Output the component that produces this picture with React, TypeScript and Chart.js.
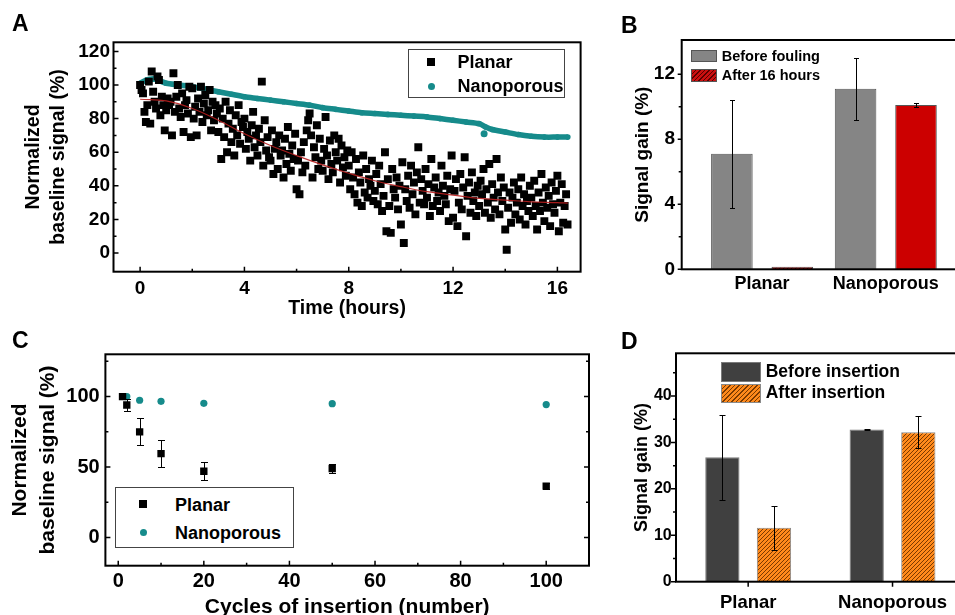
import React, { useEffect, useRef } from "react";
import { Chart, registerables } from "chart.js";

Chart.register(...registerables);

const FONT = "'Liberation Sans', Arial, Helvetica, sans-serif";
const TEAL = "#168b8b";

Chart.defaults.font.family = FONT;
Chart.defaults.color = "#000";

// ---------- A: baseline signal over 16 hours ----------
const A_STEP_HOURS = 1 / 18; // planar sensor sampled every ~3.3 min
const A_PLANAR = [
  100, 97, 95, 84, 78, 88, 102, 77, 108, 96, 90, 86, 105, 103, 82, 93, 88, 73,
  85, 92, 88, 90, 70, 107, 84, 93, 100, 86, 81, 95, 72, 88, 91, 83, 99, 69,
  98, 80, 87, 70, 92, 84, 99, 78, 89, 94, 82, 85, 97, 73, 90, 79, 88, 83,
  72, 86, 56, 80, 69, 90, 60, 77, 85, 66, 74, 58, 82, 70, 88, 65, 78, 75,
  80, 62, 72, 68, 55, 76, 84, 63, 70, 58, 74, 66, 102, 52, 79, 61, 69, 57,
  55, 73, 47, 62, 66, 50, 70, 58, 61, 45, 68, 53, 75, 59, 49, 64, 56, 71,
  38, 55, 35, 60, 48, 66, 52, 73, 79, 83, 70, 45, 63, 57, 76, 50, 68, 55,
  49, 62, 81, 58, 44, 67, 53, 48, 70, 60, 55, 68, 42, 64, 51, 57, 46, 61,
  52, 38, 60, 45, 35, 56, 30, 48, 42, 28, 58, 36, 50, 33, 44, 40, 55, 31,
  37, 47, 29, 52, 41, 25, 34, 60, 13, 44, 28, 12, 50, 38, 33, 45, 26, 40,
  17, 54, 6, 38, 31, 46, 27, 52, 35, 42, 23, 48, 63, 30, 44, 37, 29, 50,
  33, 41, 22, 56, 28, 39, 45, 31, 36, 25, 52, 40, 34, 29, 46, 19, 38, 58,
  21, 37, 44, 16, 30, 47, 26, 39, 57, 10, 34, 42, 24, 48, 31, 36, 22, 40,
  28, 43, 35, 50, 24, 38, 30, 53, 21, 41, 33, 26, 56, 36, 23, 45, 31, 39,
  14, 2, 27, 36, 18, 33, 42, 23, 30, 38, 20, 45, 28, 35, 17, 31, 25, 40,
  33, 22, 43, 28, 14, 36, 25, 47, 30, 19, 39, 27, 34, 16, 42, 29, 24, 37,
  46, 13, 30, 41, 18, 28, 35, 17,
];
const A_NANO_T = [
  0, 0.25, 0.5, 0.75, 1, 1.5, 2, 2.5, 3, 3.5, 4, 4.5, 5, 5.5, 6, 6.5, 7, 7.5, 8,
  8.5, 9, 9.5, 10, 10.5, 11, 11.5, 12, 12.5, 13, 13.25, 13.5, 14, 14.5, 15, 15.5,
  16, 16.4,
];
const A_NANO = [
  101, 103, 103.5, 102.5, 101, 100, 99, 97.5, 96, 94.5, 93, 92, 91, 90, 89, 88,
  86.5, 85.5, 84.5, 83.5, 83, 82.5, 82, 81.5, 81, 80, 79, 78, 77, 75, 73.5, 72,
  70.5, 69.5, 69, 69, 69,
];
const A_NANO_OUTLIER_T = [13.19];
const A_NANO_OUTLIER = [71];
const A_FIT_T = [0, 1, 2, 3, 4, 5, 6, 7, 8, 9, 10, 11, 12, 13, 14, 15, 16, 16.4];
const A_FIT = [
  91.5, 90.5, 86, 79, 71, 64, 58, 52.5, 47.5, 43, 39.5, 36.5, 34.5, 32.5, 31.5,
  30.5, 30, 29.7,
];
const A_XTICKS = [0, 4, 8, 12, 16];
const A_YTICKS = [0, 20, 40, 60, 80, 100, 120];

// ---------- B: signal gain before / after fouling ----------
const B_GROUPS = ["Planar", "Nanoporous"];
const B_BEFORE = [7.1, 11.1];
const B_BEFORE_ERR = [3.3, 1.9];
const B_AFTER = [0.15, 10.1];
const B_AFTER_ERR = [0, 0.15];
const B_YTICKS = [0, 4, 8, 12];

// ---------- C: baseline vs insertion cycles ----------
const C_PLANAR_CYCLES = [1, 2, 5, 10, 20, 50, 100];
const C_PLANAR = [100, 94, 75, 59.5, 47, 49, 36.5];
const C_PLANAR_ERR = [0, 4, 9.5, 9.5, 6.5, 3.3, 2];
const C_NANO_CYCLES = [2, 5, 10, 20, 50, 100];
const C_NANO = [100, 97.4, 96.6, 95.2, 95, 94.3];
const C_XTICKS = [0, 20, 40, 60, 80, 100];
const C_YTICKS = [0, 50, 100];

// ---------- D: signal gain before / after insertion ----------
const D_GROUPS = ["Planar", "Nanoporous"];
const D_BEFORE = [26.8, 32.8];
const D_BEFORE_ERR = [9.2, 0.2];
const D_AFTER = [11.6, 32.2];
const D_AFTER_ERR = [4.8, 3.5];
const D_YTICKS = [0, 10, 20, 30, 40];

const bold = (size: number, lineHeight = 1.2) => ({
  family: FONT,
  size,
  weight: "bold" as const,
  lineHeight,
});

const fixedTicks = (values: number[]) => (scale: any) => {
  scale.ticks = values.map((value) => ({ value }));
};

const noGrid = {
  grid: { display: false, drawTicks: false },
  border: { display: false },
};

// box around the plot + inward/outward tick marks (Origin style)
const framePlugin = {
  id: "frame",
  afterDraw(chart: any, _args: unknown, opts: any) {
    const { ctx } = chart;
    const { left, right, top, bottom } = chart.chartArea;
    const major = (s: any): number[] =>
      s.ticks.map((_: unknown, i: number) => s.getPixelForTick(i));
    const minor = (px: number[], lo: number, hi: number) => {
      if (px.length < 2) return [];
      const out: number[] = [];
      for (let i = 0; i < px.length - 1; i++) out.push((px[i] + px[i + 1]) / 2);
      const step = px[1] - px[0];
      const a = px[0] - step / 2;
      const b = px[px.length - 1] + step / 2;
      const mn = Math.min(lo, hi) + 2;
      const mx = Math.max(lo, hi) - 2;
      if (a > mn && a < mx) out.push(a);
      if (b > mn && b < mx) out.push(b);
      return out;
    };
    ctx.save();
    ctx.strokeStyle = "#000";
    ctx.lineWidth = 1.5;
    ctx.beginPath();
    if (opts.x !== "none") {
      const d = opts.x === "in" ? -1 : 1;
      const xs = major(chart.scales.x);
      xs.forEach((p) => {
        ctx.moveTo(p, bottom);
        ctx.lineTo(p, bottom + d * opts.major);
      });
      if (opts.minorX)
        minor(xs, left, right).forEach((p) => {
          ctx.moveTo(p, bottom);
          ctx.lineTo(p, bottom + d * opts.minor);
        });
    }
    const dy = opts.y === "in" ? 1 : -1;
    const ys = major(chart.scales.y);
    const yMinor = opts.minorY ? minor(ys, top, bottom) : [];
    ys.forEach((p) => {
      ctx.moveTo(left, p);
      ctx.lineTo(left + dy * opts.major, p);
      if (opts.mirror) {
        ctx.moveTo(right, p);
        ctx.lineTo(right - opts.major, p);
      }
    });
    yMinor.forEach((p) => {
      ctx.moveTo(left, p);
      ctx.lineTo(left + dy * opts.minor, p);
      if (opts.mirror) {
        ctx.moveTo(right, p);
        ctx.lineTo(right - opts.minor, p);
      }
    });
    ctx.stroke();
    ctx.lineWidth = 2;
    ctx.strokeRect(left, top, right - left, bottom - top);
    ctx.restore();
  },
};

const errorBarsPlugin = {
  id: "errorBars",
  afterDatasetsDraw(chart: any, _args: unknown, opts: any) {
    const sets = opts?.sets as
      | { dataset: number; errors: number[]; cap: number }[]
      | undefined;
    if (!sets) return;
    const { ctx } = chart;
    const y = chart.scales.y;
    ctx.save();
    ctx.strokeStyle = "#000";
    ctx.lineWidth = 1;
    sets.forEach(({ dataset, errors, cap }) => {
      const meta = chart.getDatasetMeta(dataset);
      const data = chart.data.datasets[dataset].data;
      meta.data.forEach((el: any, i: number) => {
        const err = errors[i];
        if (!err) return;
        const raw = data[i];
        const v = typeof raw === "number" ? raw : raw.y;
        const t = Math.round(y.getPixelForValue(v + err)) + 0.5;
        const b = Math.round(y.getPixelForValue(v - err)) + 0.5;
        const x = Math.round(el.x) + 0.5;
        ctx.beginPath();
        ctx.moveTo(x, t);
        ctx.lineTo(x, b);
        ctx.moveTo(x - cap, t);
        ctx.lineTo(x + cap, t);
        ctx.moveTo(x - cap, b);
        ctx.lineTo(x + cap, b);
        ctx.stroke();
      });
    });
    ctx.restore();
  },
};

function makeHatch(bg: string, line: string, size = 4) {
  const c = document.createElement("canvas");
  c.width = size;
  c.height = size;
  const g = c.getContext("2d")!;
  g.fillStyle = bg;
  g.fillRect(0, 0, size, size);
  g.strokeStyle = line;
  g.lineWidth = 1;
  g.beginPath();
  g.moveTo(-1, size + 1);
  g.lineTo(size + 1, -1);
  g.moveTo(-1, 1);
  g.lineTo(1, -1);
  g.moveTo(size - 1, size + 1);
  g.lineTo(size + 1, size - 1);
  g.stroke();
  return g.createPattern(c, "repeat")!;
}

const Text: React.FC<{
  x: number;
  y: number;
  size: number;
  children: React.ReactNode;
}> = ({ x, y, size, children }) => (
  <div
    style={{
      position: "absolute",
      left: x,
      top: y - size / 2,
      fontFamily: FONT,
      fontWeight: "bold",
      fontSize: size,
      lineHeight: `${size}px`,
      whiteSpace: "nowrap",
      color: "#000",
    }}
  >
    {children}
  </div>
);

const hatchCss = (bg: string, line: string) =>
  `repeating-linear-gradient(135deg, ${bg} 0px, ${bg} 2.2px, ${line} 2.2px, ${line} 3.2px)`;

const App: React.FC = () => {
  const aRef = useRef<HTMLCanvasElement | null>(null);
  const bRef = useRef<HTMLCanvasElement | null>(null);
  const cRef = useRef<HTMLCanvasElement | null>(null);
  const dRef = useRef<HTMLCanvasElement | null>(null);

  useEffect(() => {
    if (!aRef.current || !bRef.current || !cRef.current || !dRef.current) return;
    const redHatch = makeHatch("#cc1010", "#5a0000");
    const orangeHatch = makeHatch("#ff8a1c", "#7a3a00");

    const chartA = new Chart(aRef.current, {
      type: "scatter",
      data: {
        datasets: [
          {
            label: "Fit",
            data: A_FIT_T.map((x, i) => ({ x, y: A_FIT[i] })),
            showLine: true,
            borderColor: "rgba(185, 30, 30, 0.9)",
            borderWidth: 1.2,
            pointRadius: 0,
            tension: 0.4,
            order: 0,
          },
          {
            label: "Planar",
            data: A_PLANAR.map((y, i) => ({ x: i * A_STEP_HOURS, y })),
            pointStyle: "rect",
            pointRadius: 5.6,
            backgroundColor: "#000",
            borderWidth: 0,
            order: 1,
          },
          {
            label: "Nanoporous",
            data: A_NANO_T.map((x, i) => ({ x, y: A_NANO[i] })),
            showLine: true,
            borderColor: TEAL,
            borderWidth: 5.5,
            backgroundColor: TEAL,
            pointRadius: 2.8,
            pointBorderWidth: 0,
            tension: 0.3,
            order: 2,
          },
          {
            label: "Nanoporous outlier",
            data: A_NANO_OUTLIER_T.map((x, i) => ({ x, y: A_NANO_OUTLIER[i] })),
            backgroundColor: TEAL,
            pointRadius: 3.5,
            borderWidth: 0,
            order: 2,
          },
        ],
      },
      options: {
        responsive: false,
        animation: false,
        layout: { padding: { top: 42.3, right: 9.4, left: 0, bottom: 0 } },
        plugins: {
          legend: { display: false },
          tooltip: { enabled: false },
          frame: { x: "in", y: "in", minorX: true, minorY: true, major: 5, minor: 3 },
        } as any,
        scales: {
          x: {
            type: "linear",
            min: -1.02,
            max: 16.89,
            ...noGrid,
            afterBuildTicks: fixedTicks(A_XTICKS),
            afterFit: (s: any) => {
              s.height = 53.3;
            },
            ticks: { font: bold(19), padding: 6, autoSkip: false, maxRotation: 0 },
            title: {
              display: true,
              text: "Time (hours)",
              font: bold(19.5),
              padding: { top: 0, bottom: 4.5 },
            },
          },
          y: {
            type: "linear",
            min: -11.1,
            max: 125.4,
            ...noGrid,
            afterBuildTicks: fixedTicks(A_YTICKS),
            afterFit: (s: any) => {
              s.width = 113.5;
            },
            ticks: { font: bold(19), padding: 3.5, autoSkip: false },
            title: {
              display: true,
              text: ["Normalized", "baseline signal (%)"],
              font: bold(19.5, 1.3),
              padding: { top: 21, bottom: 0 },
            },
          },
        },
      },
      plugins: [framePlugin],
    });

    const chartB = new Chart(bRef.current, {
      type: "bar",
      data: {
        datasets: [
          {
            label: "Before fouling",
            data: B_BEFORE.map((y, i) => ({ x: i + 1, y })),
            backgroundColor: "#858585",
            borderColor: "#555",
            borderWidth: 1,
            categoryPercentage: 0.977,
            barPercentage: 0.688,
          },
          {
            label: "After 16 hours",
            data: B_AFTER.map((y, i) => ({ x: i + 1, y })),
            backgroundColor: [redHatch, "#cc0000"],
            borderColor: "#555",
            borderWidth: 1,
            categoryPercentage: 0.977,
            barPercentage: 0.688,
          },
        ],
      },
      options: {
        responsive: false,
        animation: false,
        layout: { padding: { top: 40, right: 5, left: 0, bottom: 0 } },
        plugins: {
          legend: { display: false },
          tooltip: { enabled: false },
          frame: { x: "none", y: "out", minorY: true, major: 4, minor: 3 },
          errorBars: {
            sets: [
              { dataset: 0, errors: B_BEFORE_ERR, cap: 2.5 },
              { dataset: 1, errors: B_AFTER_ERR, cap: 2.5 },
            ],
          },
        } as any,
        scales: {
          x: {
            type: "linear",
            offset: false,
            min: 0.35,
            max: 2.6,
            ...noGrid,
            afterBuildTicks: fixedTicks([1, 2]),
            afterFit: (s: any) => {
              s.height = 30.7;
            },
            ticks: {
              font: bold(18),
              padding: 4,
              autoSkip: false,
              maxRotation: 0,
              callback: (v: any) => B_GROUPS[Number(v) - 1],
            },
          },
          y: {
            type: "linear",
            min: 0,
            max: 14.1,
            ...noGrid,
            afterBuildTicks: fixedTicks(B_YTICKS),
            afterFit: (s: any) => {
              s.width = 81.7;
            },
            ticks: { font: bold(19), padding: 6.7, autoSkip: false },
            title: {
              display: true,
              text: "Signal gain (%)",
              font: bold(19),
              padding: { top: 31.6, bottom: 0 },
            },
          },
        },
      },
      plugins: [framePlugin, errorBarsPlugin],
    });

    const chartC = new Chart(cRef.current, {
      type: "scatter",
      data: {
        datasets: [
          {
            label: "Planar",
            data: C_PLANAR_CYCLES.map((x, i) => ({ x, y: C_PLANAR[i] })),
            pointStyle: "rect",
            pointRadius: 5.2,
            backgroundColor: "#000",
            borderWidth: 0,
            order: 0,
          },
          {
            label: "Nanoporous",
            data: C_NANO_CYCLES.map((x, i) => ({ x, y: C_NANO[i] })),
            backgroundColor: TEAL,
            pointRadius: 3.6,
            borderWidth: 0,
            order: 1,
          },
        ],
      },
      options: {
        responsive: false,
        animation: false,
        layout: { padding: { top: 34.3, right: 11, left: 0, bottom: 0 } },
        plugins: {
          legend: { display: false },
          tooltip: { enabled: false },
          frame: {
            x: "in",
            y: "in",
            mirror: true,
            minorX: true,
            minorY: true,
            major: 5,
            minor: 3,
          },
          errorBars: { sets: [{ dataset: 0, errors: C_PLANAR_ERR, cap: 3.5 }] },
        } as any,
        scales: {
          x: {
            type: "linear",
            min: -3,
            max: 110,
            ...noGrid,
            afterBuildTicks: fixedTicks(C_XTICKS),
            afterFit: (s: any) => {
              s.height = 54.3;
            },
            ticks: { font: bold(20), padding: 3.7, autoSkip: false, maxRotation: 0 },
            title: {
              display: true,
              text: "Cycles of insertion (number)",
              font: bold(21),
              padding: { top: 0, bottom: 0 },
            },
          },
          y: {
            type: "linear",
            min: -20,
            max: 130,
            ...noGrid,
            afterBuildTicks: fixedTicks(C_YTICKS),
            afterFit: (s: any) => {
              s.width = 105.4;
            },
            ticks: { font: bold(20), padding: 5.7, autoSkip: false },
            title: {
              display: true,
              text: ["Normalized", "baseline signal (%)"],
              font: bold(21, 1.33),
              padding: { top: 6, bottom: 0 },
            },
          },
        },
      },
      plugins: [framePlugin, errorBarsPlugin],
    });

    const chartD = new Chart(dRef.current, {
      type: "bar",
      data: {
        labels: D_GROUPS,
        datasets: [
          {
            label: "Before insertion",
            data: D_BEFORE,
            backgroundColor: "#404040",
            borderColor: "#7a7a7a",
            borderWidth: 1,
            categoryPercentage: 0.715,
            barPercentage: 0.664,
          },
          {
            label: "After insertion",
            data: D_AFTER,
            backgroundColor: orangeHatch,
            borderColor: "#8a8a8a",
            borderWidth: 1,
            categoryPercentage: 0.715,
            barPercentage: 0.664,
          },
        ],
      },
      options: {
        responsive: false,
        animation: false,
        layout: { padding: { top: 33.3, right: 5.3, left: 0, bottom: 0 } },
        plugins: {
          legend: { display: false },
          tooltip: { enabled: false },
          frame: { x: "out", y: "out", minorY: true, major: 5, minor: 3 },
          errorBars: {
            sets: [
              { dataset: 0, errors: D_BEFORE_ERR, cap: 3 },
              { dataset: 1, errors: D_AFTER_ERR, cap: 3 },
            ],
          },
        } as any,
        scales: {
          x: {
            type: "category",
            ...noGrid,
            afterFit: (s: any) => {
              s.height = 38.3;
            },
            ticks: { font: bold(18.5), padding: 10.5, maxRotation: 0 },
          },
          y: {
            type: "linear",
            min: 0,
            max: 49.2,
            ...noGrid,
            afterBuildTicks: fixedTicks(D_YTICKS),
            afterFit: (s: any) => {
              s.width = 76;
            },
            ticks: { font: bold(16), padding: 4.3, autoSkip: false },
            title: {
              display: true,
              text: "Signal gain (%)",
              font: bold(18),
              padding: { top: 31.7, bottom: 0 },
            },
          },
        },
      },
      plugins: [framePlugin, errorBarsPlugin],
    });

    return () => {
      chartA.destroy();
      chartB.destroy();
      chartC.destroy();
      chartD.destroy();
    };
  }, []);

  const abs = (left: number, top: number): React.CSSProperties => ({
    position: "absolute",
    left,
    top,
  });

  return (
    <div
      style={{
        position: "fixed",
        left: 0,
        top: 0,
        width: 955,
        height: 615,
        overflow: "hidden",
        background: "#fff",
      }}
    >
      <canvas ref={aRef} width={590} height={325} style={abs(0, 0)} />
      <canvas ref={bRef} width={365} height={300} style={abs(600, 0)} />
      <canvas ref={cRef} width={600} height={300} style={abs(0, 320)} />
      <canvas ref={dRef} width={370} height={300} style={abs(600, 320)} />

      {/* panel letters */}
      <Text x={12} y={23.5} size={23}>A</Text>
      <Text x={621} y={25.5} size={23}>B</Text>
      <Text x={12} y={340} size={23}>C</Text>
      <Text x={621} y={341.5} size={23}>D</Text>

      {/* legend A */}
      <div
        style={{
          ...abs(408, 49),
          width: 157,
          height: 49,
          border: "1px solid #444",
          boxSizing: "border-box",
          background: "#fff",
        }}
      />
      <div style={{ ...abs(427, 58), width: 8, height: 8, background: "#000" }} />
      <div
        style={{
          ...abs(427.5, 82.5),
          width: 7,
          height: 7,
          borderRadius: "50%",
          background: TEAL,
        }}
      />
      <Text x={457.6} y={62.3} size={18}>Planar</Text>
      <Text x={457.6} y={86} size={18}>Nanoporous</Text>

      {/* legend B */}
      <div
        style={{
          ...abs(690.7, 50),
          width: 26.6,
          height: 12.3,
          background: "#858585",
          border: "1px solid #555",
          boxSizing: "border-box",
        }}
      />
      <div
        style={{
          ...abs(690.7, 69),
          width: 26.6,
          height: 12.6,
          background: hatchCss("#cc1010", "#5a0000"),
          border: "1px solid #555",
          boxSizing: "border-box",
        }}
      />
      <Text x={721.7} y={56} size={14.5}>Before fouling</Text>
      <Text x={721.7} y={75.2} size={14.5}>After 16 hours</Text>

      {/* legend C */}
      <div
        style={{
          ...abs(115, 487),
          width: 179,
          height: 61,
          border: "1px solid #444",
          boxSizing: "border-box",
          background: "#fff",
        }}
      />
      <div style={{ ...abs(139, 500), width: 8, height: 8, background: "#000" }} />
      <div
        style={{
          ...abs(140, 528.5),
          width: 7,
          height: 7,
          borderRadius: "50%",
          background: TEAL,
        }}
      />
      <Text x={175} y={505} size={18}>Planar</Text>
      <Text x={175} y={532.5} size={18}>Nanoporous</Text>

      {/* legend D */}
      <div
        style={{
          ...abs(720.5, 362),
          width: 40.5,
          height: 19.5,
          background: "#404040",
          border: "1px solid #7a7a7a",
          boxSizing: "border-box",
        }}
      />
      <div
        style={{
          ...abs(720.5, 384),
          width: 40.5,
          height: 19,
          background: hatchCss("#ff8a1c", "#7a3a00"),
          border: "1px solid #8a8a8a",
          boxSizing: "border-box",
        }}
      />
      <Text x={765.7} y={372} size={17.5}>Before insertion</Text>
      <Text x={765.7} y={393} size={17.5}>After insertion</Text>
    </div>
  );
};

export default App;
